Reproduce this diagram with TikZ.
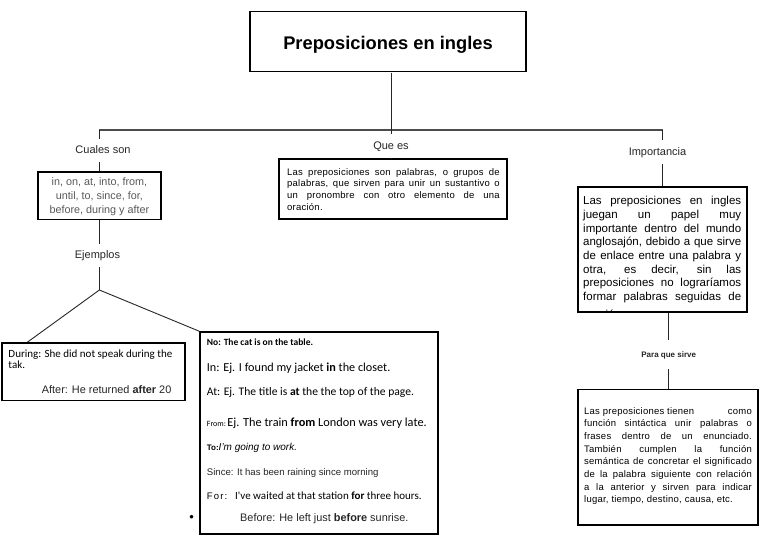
\documentclass[tikz,border=0pt]{standalone}
\usepackage{fontspec}
\setmainfont{Liberation Sans}
\newfontfamily\carl{Carlito}
\newfontfamily\lsp[LetterSpace=2.5]{Liberation Sans}
\newfontfamily\lspw[LetterSpace=12]{Liberation Sans}
\newcommand\JLine[1]{\hbox to\hsize{#1}}
\newcommand\NLine[1]{\hbox{#1}}
\newcommand\CLine[1]{\hbox to\hsize{\hfil#1\hfil}}
\newcommand\TBlock[2]{\vtop{\hsize=#1\lineskiplimit=-100pt\lineskip=0pt\relax #2}}
\begin{document}
\begin{tikzpicture}[x=1pt,y=-1pt,
  box/.style={draw=black, line width=1.6pt, inner sep=0pt},
  conn/.style={draw=black!85, line width=0.9pt},
  lab/.style={font=\fontsize{11}{13}\selectfont, text=black!85, inner xsep=1pt, inner ysep=7pt, text height=7.6pt, text depth=1.5pt, anchor=base},
  txt/.style={inner sep=0pt, anchor=base west},
]
\fill[white] (0,0) rectangle (768,543);
\useasboundingbox (0,0) rectangle (768,543);

% boxes
\node[box, minimum width=276pt, minimum height=60pt] (title) at (388,41.7)
  {\raisebox{-7.8pt}[0pt][0pt]{\fontsize{18.3}{22}\selectfont\bfseries Preposiciones en ingles}};
\node[box, minimum width=123pt, minimum height=47.6pt] (cbox) at (99.4,195.5) {};
\node[box, minimum width=228pt, minimum height=60pt] (qebox) at (393,189) {};
\node[box, minimum width=169pt, minimum height=125pt] (impbox) at (662.5,249.5) {};
\node[box, minimum width=180pt, minimum height=135.5pt] (pqsbox) at (668,457.2) {};
\node[box, minimum width=183.3pt, minimum height=57.7pt] (dur) at (93.4,371.8) {};
\node[box, minimum width=238pt, minimum height=202pt] (ex) at (319,433) {};

% box texts
\node[txt, anchor=base, font=\fontsize{10.8}{14.2}\selectfont, text=black!65] (ctext) at (99.4,185.5)
  {\TBlock{118pt}{\CLine{in, on, at, into, from,}\CLine{until, to, since, for,}\CLine{before, during y after}}};

\node[txt, font=\lsp\fontsize{9.5}{11.9}\selectfont] (qetext) at (287,175)
  {\TBlock{212.5pt}{%
   \JLine{Las preposiciones son palabras, o grupos de}%
   \JLine{palabras, que sirven para unir un sustantivo o}%
   \JLine{un pronombre con otro elemento de una}%
   \NLine{oración.}}};

\begin{scope}
\clip ([yshift=1.6pt]impbox.south west) rectangle (impbox.north east);
\node[txt, font=\fontsize{11.5}{13.7}\selectfont] (imptext) at (583,204.7)
  {\TBlock{158pt}{%
   \JLine{Las preposiciones en ingles}%
   \JLine{juegan un papel muy}%
   \JLine{importante dentro del mundo}%
   \JLine{anglosajón, debido a que sirve}%
   \JLine{de enlace entre una palabra y}%
   \JLine{otra, es decir, sin las}%
   \JLine{preposiciones no lograríamos}%
   \JLine{formar palabras seguidas de}%
   \kern4pt
   \NLine{oración.}}};
\end{scope}

\node[txt, font=\lsp\fontsize{9.5}{12.67}\selectfont] (pqstext) at (584,414)
  {\TBlock{167.7pt}{%
   \JLine{Las preposiciones tienen\hfill como}%
   \JLine{función sintáctica unir palabras o}%
   \JLine{frases dentro de un enunciado.}%
   \JLine{También cumplen la función}%
   \JLine{semántica de concretar el significado}%
   \JLine{de la palabra siguiente con relación}%
   \JLine{a la anterior y sirven para indicar}%
   \NLine{lugar, tiempo, destino, causa, etc.}}};

% during box
\node[txt, font=\carl\fontsize{11}{13}\selectfont] (d1) at (8.3,357.3) {During: She did not speak during the};
\node[txt, font=\carl\fontsize{11}{13}\selectfont] (d2) at (8.3,368.3) {tak.};
\node[txt, font=\fontsize{10.9}{13}\selectfont, text=black!85] (d3) at (41.7,393.8) {After: He returned \textbf{after} 20};

% examples box
\node[txt, font=\carl\bfseries\fontsize{9.5}{11}\selectfont] (e1) at (206.7,345) {No: The cat is on the table.};
\node[txt, font=\carl\fontsize{12.2}{14}\selectfont] (e2) at (206.7,371) {In: Ej. I found my jacket \textbf{in} the closet.};
\node[txt, font=\carl\fontsize{11.6}{14}\selectfont] (e3) at (206.7,395.8) {At: Ej. The title is \textbf{at} the the top of the page.};
\node[txt, font=\carl\fontsize{12.3}{14}\selectfont] (e4) at (206.7,426) {{\fontsize{8}{9}\selectfont From:}\hspace{1.5pt}Ej. The train \textbf{from} London was very late.};
\node[txt, font=\fontsize{10}{12}\selectfont] (e5) at (206.7,450.2) {{\bfseries\fontsize{8}{9}\selectfont To:}\textit{I'm going to work.}};
\node[txt, font=\fontsize{9.6}{12}\selectfont, text=black!85] (e6) at (206.7,475.7) {Since: It has been raining since morning};
\node[txt, font=\carl\fontsize{11}{13}\selectfont] (e7) at (206.7,499.9) {{\lspw\fontsize{9.5}{11}\selectfont For:}\hspace{8pt}I've waited at that station \textbf{for} three hours.};
\node[txt, font=\fontsize{10.9}{13}\selectfont, text=black!85] (e8) at (240,521.1) {Before: He left just \textbf{before} sunrise.};
\node[inner sep=0pt, font=\fontsize{13}{14}\selectfont] (bul) at (191.7,518.3) {•};

% labels
\node[lab] (cs) at (103,153.3) {Cuales son};
\node[lab] (qe) at (391,149) {Que es};
\node[lab] (impl) at (657.5,155) {Importancia};
\node[lab] (ej) at (97.5,258.3) {Ejemplos};
\node[lab, font=\bfseries\fontsize{8}{9}\selectfont, text height=5.8pt, text depth=0pt, inner ysep=11.5pt] (pqsl) at (668.7,357.3) {Para que sirve};

% coordinates
\coordinate (hl) at (99.4,130);
\coordinate (hm) at (391.7,130);
\coordinate (hr) at (662.5,130);
\coordinate (apex) at (99.4,290);

% connectors
\draw[conn, draw=black!70, line width=1.3pt] (hl) -- (hr);
\draw[conn] (hm |- title.south) -- (hm);
\draw[conn] (hl) -- (hl |- cs.north);
\draw[conn] (hl |- cs.south) -- (hl |- cbox.north);
\draw[conn] (hm) -- (hm |- qe.north);
\draw[conn] (hm |- qe.south) -- (hm |- qebox.north);
\draw[conn] (hr) -- (hr |- impl.north);
\draw[conn] (hr |- impl.south) -- (hr |- impbox.north);
\draw[conn] (cbox.south) -- (cbox.south |- ej.north);
\draw[conn] (apex |- ej.south) -- (apex);
\draw[conn] (apex) -- ([xshift=26.5pt]dur.north west);
\draw[conn] (apex) -- (ex.north west);
\draw[conn] (pqsl.north |- impbox.south) -- (pqsl.north);
\draw[conn] (pqsl.south) -- (pqsl.south |- pqsbox.north);
\end{tikzpicture}
\end{document}
